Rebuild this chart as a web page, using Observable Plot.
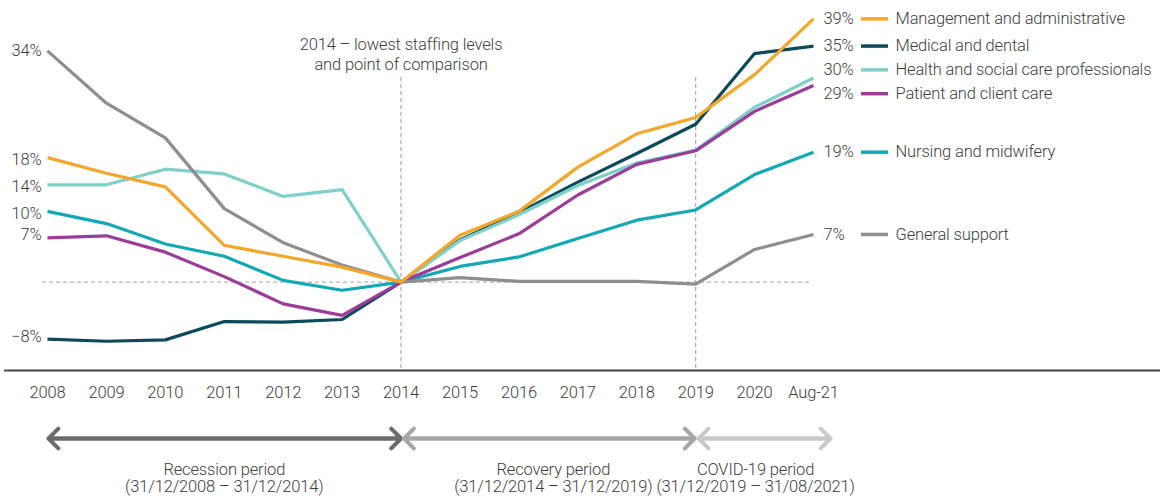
<!DOCTYPE html>
<html>
<head>
<meta charset="utf-8">
<script src="https://cdn.jsdelivr.net/npm/d3@7"></script>
<script src="https://cdn.jsdelivr.net/npm/@observablehq/plot@0.6"></script>
<style>
  html, body { margin: 0; padding: 0; background: #fff; }
  #chart svg { display: block; letter-spacing: -0.15px; }
</style>
</head>
<body>
<div id="chart"></div>
<script>
const periods = ["2008","2009","2010","2011","2012","2013","2014","2015","2016","2017","2018","2019","2020","Aug-21"];
const seriesNames = ["Management and administrative","Medical and dental","Health and social care professionals","Patient and client care","Nursing and midwifery","General support"];
const seriesColors = ["#f4a62a","#0d4a59","#7fd0c8","#9c3c98","#12a9b5","#8e8e8e"];

const management = [18.3,16.0,14.0,5.4,3.8,2.2,0,6.9,10.4,16.9,21.8,24.2,30.5,38.7];
const medical    = [-8.4,-8.7,-8.5,-5.8,-5.9,-5.5,0,6.2,10.2,14.7,18.9,23.2,33.6,34.7];
const health     = [14.3,14.3,16.6,15.9,12.6,13.6,0,6.1,9.9,14.2,17.5,19.4,25.7,30.0];
const patient    = [6.5,6.8,4.4,0.8,-3.2,-4.9,0,3.6,7.1,12.8,17.3,19.3,25.1,28.9];
const nursing    = [10.4,8.6,5.6,3.8,0.25,-1.2,0,2.3,3.7,6.4,9.1,10.6,15.8,19.1];
const general    = [34.0,26.3,21.2,10.8,5.8,2.5,0,0.65,0.1,0.1,0.1,-0.3,4.8,7.0];

const endLabels = ["39%","35%","30%","29%","19%","7%"];
const yTicks = [34,18,14,10,7,-8];

const periodNames = ["Recession period","Recovery period","COVID-19 period"];
const periodDates = ["(31/12/2008 – 31/12/2014)","(31/12/2014 – 31/12/2019)","(31/12/2019 – 31/08/2021)"];
const periodStart = ["2008","2014","2019"];
const periodEnd = ["2014","2019","Aug-21"];
const annotation = "2014 – lowest staffing levels\nand point of comparison";

const valuesBySeries = [management, medical, health, patient, nursing, general];
const drawOrder = [1, 2, 4, 3, 5, 0];

const rows = [];
for (const s of drawOrder) {
  valuesBySeries[s].forEach((v, i) => rows.push({series: seriesNames[s], period: periods[i], value: v}));
}

// end labels, dodged apart so they don't overlap
const ends = seriesNames.map((name, s) => ({
  series: name, label: endLabels[s], labelY: valuesBySeries[s][periods.length - 1]
}));
{
  const gap = 3.5;
  const sorted = [...ends].sort((a, b) => b.labelY - a.labelY);
  for (let it = 0; it < 50; it++) {
    for (let i = 0; i < sorted.length - 1; i++) {
      const a = sorted[i], b = sorted[i + 1];
      const d = a.labelY - b.labelY;
      if (d < gap) { const p = (gap - d) / 2; a.labelY += p; b.labelY -= p; }
    }
  }
}

const textColor = "#3d3d3d";
const fs = 16.5;
const yDomain = [-13, 41.4];
const arrowY = -23;
const periodColors = ["#6b6b6b","#a6a6a6","#c9c9c9"];

function periodArrow(i, insetA, insetB) {
  const opts = {y1: arrowY, y2: arrowY, stroke: periodColors[i], strokeWidth: 4, headAngle: 90, headLength: 5.2};
  return [
    Plot.arrow([0], {...opts, x1: () => periodStart[i], x2: () => periodEnd[i], insetStart: insetA, insetEnd: insetB}),
    Plot.arrow([0], {...opts, x1: () => periodEnd[i], x2: () => periodStart[i], insetStart: insetB, insetEnd: insetA})
  ];
}

const xPos = d3.scalePoint().domain(periods).range([47, 813]);
const mid = (a, b) => (xPos(a) + xPos(b)) / 2;

function periodText(i, dx) {
  return Plot.text([periodNames[i] + "\n" + periodDates[i]], {
    x: () => periodStart[i], text: d => d, frameAnchor: "bottom", dy: 93, dx, lineAnchor: "top",
    lineHeight: 1.02, fill: textColor, fontSize: fs
  });
}

const chart = Plot.plot({
  width: 1168,
  height: 500,
  marginLeft: 47,
  marginRight: 355,
  marginTop: 0,
  marginBottom: 130,
  style: {fontFamily: "Roboto, 'Liberation Sans', sans-serif", fontSize: fs + "px", fontWeight: 300, color: textColor, background: "#fff"},
  x: {type: "point", domain: periods, padding: 0, round: false, label: null},
  y: {domain: yDomain, label: null},
  color: {domain: seriesNames, range: seriesColors},
  marks: [
    Plot.ruleY([0], {stroke: "#b5b5b5", strokeDasharray: "4,3", strokeWidth: 1.2, insetLeft: -5, insetRight: 2}),
    Plot.ruleX(["2014", "2019"], {stroke: "#a8a8a8", strokeDasharray: "4,3", strokeWidth: 1.2, insetTop: 77}),
    Plot.ruleY([yDomain[0]], {stroke: "#454545", strokeWidth: 2.2, insetLeft: -43, insetRight: -347}),
    Plot.axisY({ticks: yTicks, tickSize: 0, tickPadding: 6, tickFormat: d => (d < 0 ? "−" + (-d) : d) + "%", fill: textColor}),
    Plot.axisX({tickSize: 0, tickPadding: 16, fill: textColor}),
    Plot.line(rows, {x: "period", y: "value", z: "series", stroke: "series", strokeWidth: 3.2, strokeLinejoin: "miter", strokeLinecap: "butt"}),
    Plot.text([annotation], {x: () => "2014", text: d => d, frameAnchor: "top", dy: 36, lineAnchor: "top", lineHeight: 1.17, fill: textColor, fontSize: fs}),
    Plot.text(ends, {x: () => "Aug-21", y: "labelY", text: "label", dx: 10, textAnchor: "start", fill: textColor, fontSize: fs}),
    Plot.ruleY(ends, {y: "labelY", stroke: "series", strokeWidth: 3.5, insetLeft: 814, insetRight: -75}),
    Plot.text(ends, {x: () => "Aug-21", y: "labelY", text: "series", dx: 82, textAnchor: "start", fill: textColor, fontSize: fs}),
    ...periodArrow(0, 1, 0),
    ...periodArrow(1, 3, 1),
    ...periodArrow(2, 3, -17),
    periodText(0, mid("2008", "2014") - xPos("2008")),
    periodText(1, mid("2014", "2019") - xPos("2014") + 5),
    periodText(2, mid("2019", "Aug-21") - xPos("2019") + 1)
  ]
});
document.getElementById("chart").appendChild(chart);
</script>
</body>
</html>
